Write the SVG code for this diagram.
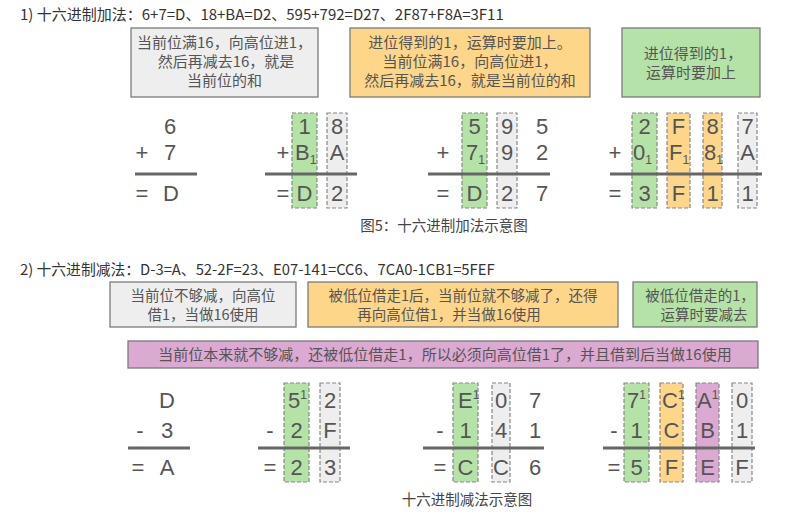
<svg xmlns="http://www.w3.org/2000/svg" width="795" height="518" viewBox="0 0 795 518">
<style>
.hd{font-family:"Noto Sans CJK SC","Liberation Sans",sans-serif;font-size:15px;fill:#333}
.cap{font-family:"Noto Sans CJK SC","Liberation Sans",sans-serif;font-size:14.5px;fill:#444;text-anchor:middle}
.bt{font-family:"Noto Sans CJK SC","Liberation Sans",sans-serif;font-size:15px;fill:#555;text-anchor:middle}
.bs{font-family:"Noto Sans CJK SC","Liberation Sans",sans-serif;font-size:14.5px;fill:#555;text-anchor:middle}
.box{stroke:#7a7a7a;stroke-width:1.3}
.gray{fill:#eeeeee}.org{fill:#fdd68a}.grn{fill:#b5e2a7}.pur{fill:#dba9d2}
.col{stroke:#888;stroke-width:1.2;stroke-dasharray:4,2}
.d{font-family:"Liberation Sans",Arial,sans-serif;font-size:22px;fill:#555;text-anchor:middle}
.ds{font-family:"Liberation Sans",Arial,sans-serif;font-size:22px;fill:#555;text-anchor:start}
.s{font-size:12px}
.rule{stroke:#666;stroke-width:3}
</style>
<rect width="795" height="518" fill="#ffffff"/>

<text class="hd" x="20" y="20">1) 十六进制加法：6+7=D、18+BA=D2、595+792=D27、2F87+F8A=3F11</text>

<g id="note-add-gray">
<rect class="box gray" x="131" y="28" width="187" height="69"/>
<text class="bt" x="224.5" y="48">当前位满16，向高位进1，</text>
<text class="bt" x="226" y="67">然后再减去16，就是</text>
<text class="bt" x="224.5" y="86">当前位的和</text>
</g>
<g id="note-add-orange">
<rect class="box org" x="350" y="28" width="240" height="69"/>
<text class="bt" x="470" y="48">进位得到的1，运算时要加上。</text>
<text class="bt" x="470" y="67">当前位满16，向高位进1，</text>
<text class="bt" x="470" y="86">然后再减去16，就是当前位的和</text>
</g>
<g id="note-add-green">
<rect class="box grn" x="622" y="28" width="138" height="69"/>
<text class="bt" x="693" y="59">进位得到的1，</text>
<text class="bt" x="691" y="78">运算时要加上</text>
</g>

<g id="add-1">
<text class="d" x="170" y="134">6</text>
<text class="d" x="142" y="160">+</text>
<text class="d" x="170" y="160">7</text>
<text class="d" x="142" y="201">=</text>
<text class="d" x="171" y="201">D</text>
</g>
<g id="add-2">
<rect class="col grn" x="292" y="113" width="25" height="95"/>
<rect class="col gray" x="327" y="113" width="20" height="95"/>
<text class="d" x="304.5" y="134">1</text>
<text class="d" x="337" y="134">8</text>
<text class="d" x="283" y="160">+</text>
<text class="ds" x="295" y="160">B<tspan class="s" dy="4">1</tspan></text>
<text class="d" x="337" y="160">A</text>
<text class="d" x="283" y="201">=</text>
<text class="d" x="304.5" y="201">D</text>
<text class="d" x="337" y="201">2</text>
</g>
<g id="add-3">
<rect class="col grn" x="462" y="113" width="25" height="95"/>
<rect class="col gray" x="497" y="113" width="20" height="95"/>
<text class="d" x="474.5" y="134">5</text>
<text class="d" x="507" y="134">9</text>
<text class="d" x="542" y="134">5</text>
<text class="d" x="443" y="160">+</text>
<text class="ds" x="466" y="160">7<tspan class="s" dy="4">1</tspan></text>
<text class="d" x="507" y="160">9</text>
<text class="d" x="542" y="160">2</text>
<text class="d" x="443" y="201">=</text>
<text class="d" x="474.5" y="201">D</text>
<text class="d" x="507" y="201">2</text>
<text class="d" x="542" y="201">7</text>
</g>
<g id="add-4">
<rect class="col grn" x="632" y="113" width="25" height="95"/>
<rect class="col org" x="667" y="113" width="23" height="95"/>
<rect class="col org" x="703" y="113" width="19" height="95"/>
<rect class="col gray" x="738" y="113" width="19" height="95"/>
<text class="d" x="644.5" y="134">2</text>
<text class="d" x="678.5" y="134">F</text>
<text class="d" x="712.5" y="134">8</text>
<text class="d" x="747.5" y="134">7</text>
<text class="d" x="615" y="160">+</text>
<text class="ds" x="633" y="160">0<tspan class="s" dy="4">1</tspan></text>
<text class="ds" x="669" y="160">F<tspan class="s" dy="4">1</tspan></text>
<text class="ds" x="704" y="160">8<tspan class="s" dy="4">1</tspan></text>
<text class="d" x="747.5" y="160">A</text>
<text class="d" x="615" y="201">=</text>
<text class="d" x="644.5" y="201">3</text>
<text class="d" x="678.5" y="201">F</text>
<text class="d" x="712.5" y="201">1</text>
<text class="d" x="747.5" y="201">1</text>
</g>

<text class="cap" x="444" y="231">图5：十六进制加法示意图</text>

<text class="hd" x="20" y="275" style="font-size:14.8px">2) 十六进制减法：D-3=A、52-2F=23、E07-141=CC6、7CA0-1CB1=5FEF</text>

<g id="note-sub-gray">
<rect class="box gray" x="110" y="282" width="186" height="45"/>
<text class="bs" x="203" y="301">当前位不够减，向高位</text>
<text class="bs" x="203" y="320">借1，当做16使用</text>
</g>
<g id="note-sub-orange">
<rect class="box org" x="308" y="282" width="310" height="45"/>
<text class="bs" x="463" y="301">被低位借走1后，当前位就不够减了，还得</text>
<text class="bs" x="449" y="320">再向高位借1，并当做16使用</text>
</g>
<g id="note-sub-green">
<rect class="box grn" x="633" y="282" width="124" height="45"/>
<text class="bs" x="700" y="301">被低位借走的1，</text>
<text class="bs" x="704" y="320">运算时要减去</text>
</g>
<g id="note-sub-purple">
<rect class="box pur" x="128" y="341" width="630" height="27"/>
<text class="bt" x="445" y="360">当前位本来就不够减，还被低位借走1，所以必须向高位借1了，并且借到后当做16使用</text>
</g>

<g id="sub-1">
<text class="d" x="167" y="408">D</text>
<text class="d" x="140" y="438">-</text>
<text class="d" x="167" y="438">3</text>
<text class="d" x="138" y="475">=</text>
<text class="d" x="167" y="475">A</text>
</g>
<g id="sub-2">
<rect class="col grn" x="284" y="383" width="25" height="99"/>
<rect class="col gray" x="320" y="383" width="20" height="99"/>
<text class="ds" x="288" y="408">5<tspan class="s" dy="-9">1</tspan></text>
<text class="d" x="330" y="408">2</text>
<text class="d" x="270" y="438">-</text>
<text class="d" x="296.5" y="438">2</text>
<text class="d" x="330" y="438">F</text>
<text class="d" x="270" y="475">=</text>
<text class="d" x="296.5" y="475">2</text>
<text class="d" x="330" y="475">3</text>
</g>
<g id="sub-3">
<rect class="col grn" x="453" y="383" width="25" height="99"/>
<rect class="col gray" x="492" y="383" width="18" height="99"/>
<text class="ds" x="458" y="408">E<tspan class="s" dy="-9">1</tspan></text>
<text class="d" x="501" y="408">0</text>
<text class="d" x="535" y="408">7</text>
<text class="d" x="440" y="438">-</text>
<text class="d" x="465.5" y="438">1</text>
<text class="d" x="501" y="438">4</text>
<text class="d" x="535" y="438">1</text>
<text class="d" x="440" y="475">=</text>
<text class="d" x="465.5" y="475">C</text>
<text class="d" x="501" y="475">C</text>
<text class="d" x="535" y="475">6</text>
</g>
<g id="sub-4">
<rect class="col grn" x="624" y="383" width="25" height="99"/>
<rect class="col org" x="660" y="383" width="23" height="99"/>
<rect class="col pur" x="696" y="383" width="23" height="99"/>
<rect class="col gray" x="732" y="383" width="20" height="99"/>
<text class="ds" x="627" y="408">7<tspan class="s" dy="-9">1</tspan></text>
<text class="ds" x="662" y="408">C<tspan class="s" dy="-9">1</tspan></text>
<text class="ds" x="697" y="408">A<tspan class="s" dy="-9">1</tspan></text>
<text class="d" x="742" y="408">0</text>
<text class="d" x="614" y="438">-</text>
<text class="d" x="636.5" y="438">1</text>
<text class="d" x="671.5" y="438">C</text>
<text class="d" x="707.5" y="438">B</text>
<text class="d" x="742" y="438">1</text>
<text class="d" x="614" y="475">=</text>
<text class="d" x="636.5" y="475">5</text>
<text class="d" x="671.5" y="475">F</text>
<text class="d" x="707.5" y="475">E</text>
<text class="d" x="742" y="475">F</text>
</g>

<text class="cap" x="467" y="505">十六进制减法示意图</text>

<g id="connectors">
<line class="rule" x1="135" y1="174" x2="197" y2="174"/>
<line class="rule" x1="265" y1="174" x2="357" y2="174"/>
<line class="rule" x1="428" y1="174" x2="550" y2="174"/>
<line class="rule" x1="610" y1="174" x2="762" y2="174"/>
<line class="rule" x1="128" y1="448" x2="190" y2="448"/>
<line class="rule" x1="258" y1="448" x2="350" y2="448"/>
<line class="rule" x1="423" y1="448" x2="544" y2="448"/>
<line class="rule" x1="603" y1="448" x2="755" y2="448"/>
</g>
</svg>
